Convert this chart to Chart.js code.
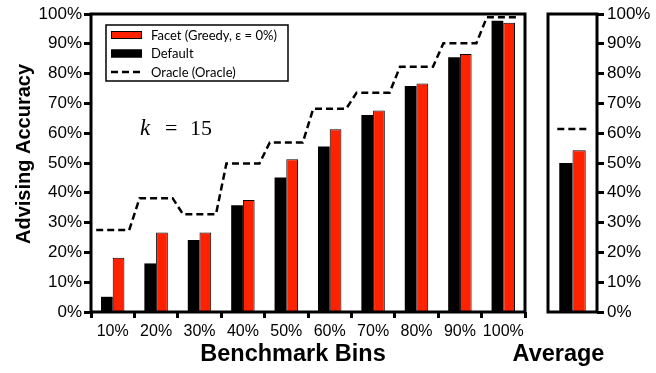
<!DOCTYPE html>
<html>
<head>
<meta charset="utf-8">
<script src="https://cdn.jsdelivr.net/npm/chart.js@4.4.1/dist/chart.umd.min.js"></script>
<style>
  html, body { margin: 0; padding: 0; background: #fff; }
  #wrap { position: relative; width: 656px; height: 373px; overflow: hidden; background: #fff; }
  canvas { position: absolute; top: 0; }
  #bins { left: 0; width: 540px; height: 373px; }
  #avg { left: 500px; width: 156px; height: 373px; }
</style>
</head>
<body>
<div id="wrap">
  <canvas id="bins" width="540" height="373"></canvas>
  <canvas id="avg" width="156" height="373"></canvas>
</div>
<script>
// Advising accuracy per benchmark bin (percent)
const binLabels  = ['10%', '20%', '30%', '40%', '50%', '60%', '70%', '80%', '90%', '100%'];
const defaultAcc = [5.1, 16.3, 24.2, 35.8, 45.1, 55.5, 66.1, 75.8, 85.5, 97.7];
const facetAcc   = [18.2, 26.7, 26.7, 37.6, 51.3, 61.3, 67.6, 76.7, 86.6, 97.1];
const oracleAcc  = [27.5, 38.2, 32.8, 49.8, 56.9, 68.2, 73.6, 82.3, 90.2, 98.9];

// Averages over all bins (percent)
const avgLabels  = ['Average'];
const defaultAvg = [50.0];
const facetAvg   = [54.3];
const oracleAvg  = [61.4];

const RED = '#ff2200';
const FONT = "'Liberation Sans', Arial, Helvetica, sans-serif";
Chart.defaults.font.family = FONT;
Chart.defaults.color = '#000';

// Groups sit at integer positions on a linear x axis
const atIndex = values => values.map((v, i) => ({ x: i, y: v }));

// Oracle is drawn as a flat dash across each group, joined by slanted steps
function stepPoints(values, half) {
  const pts = [];
  values.forEach((v, i) => { pts.push({ x: i - half, y: v }, { x: i + half, y: v }); });
  return pts;
}

function datasets(defVals, facVals, oraVals, half) {
  return [
    { type: 'bar', label: 'Default', data: atIndex(defVals), backgroundColor: '#000', borderColor: '#000',
      borderWidth: 0, categoryPercentage: 0.54, barPercentage: 1.0, order: 1 },
    { type: 'bar', label: 'Facet (Greedy, \u03b5 = 0%)', data: atIndex(facVals), backgroundColor: RED,
      borderColor: '#000', borderWidth: 1, categoryPercentage: 0.54, barPercentage: 1.0, order: 1 },
    { type: 'line', label: 'Oracle (Oracle)', data: stepPoints(oraVals, half),
      borderColor: '#000', borderWidth: 2.5, borderDash: [7, 4], pointRadius: 0, fill: false,
      tension: 0, order: 0 }
  ];
}

// Thick frame around the plotting area
const framePlugin = {
  id: 'frame',
  afterDatasetsDraw(chart) {
    const a = chart.chartArea, ctx = chart.ctx;
    ctx.save();
    ctx.strokeStyle = '#000';
    ctx.lineWidth = 3;
    ctx.strokeRect(a.left, a.top, a.right - a.left, a.bottom - a.top);
    ctx.restore();
  }
};

// Boxed legend in the upper-left corner of the bins panel
const boxLegend = {
  id: 'boxLegend',
  afterDraw(chart) {
    const a = chart.chartArea, ctx = chart.ctx;
    const order = [1, 0, 2];
    const bx = a.left + 15, by = a.top + 11, bw = 182, bh = 56;
    ctx.save();
    ctx.fillStyle = '#fff';
    ctx.fillRect(bx, by, bw, bh);
    ctx.strokeStyle = '#000';
    ctx.lineWidth = 1.5;
    ctx.strokeRect(bx, by, bw, bh);
    const rows = [by + 10, by + 28.5, by + 47];
    ctx.font = "13px Lato, 'Open Sans', sans-serif";
    ctx.textBaseline = 'middle';
    order.forEach((di, r) => {
      const ds = chart.data.datasets[di];
      const y = rows[r];
      const sx = bx + 5, sw = 31;
      if (ds.type === 'line') {
        ctx.strokeStyle = ds.borderColor;
        ctx.lineWidth = 2.5;
        ctx.setLineDash(ds.borderDash);
        ctx.beginPath();
        ctx.moveTo(sx, y);
        ctx.lineTo(sx + sw, y);
        ctx.stroke();
        ctx.setLineDash([]);
      } else {
        ctx.fillStyle = ds.backgroundColor;
        ctx.fillRect(sx, y - 4, sw, 8);
        ctx.strokeStyle = '#000';
        ctx.lineWidth = 1;
        ctx.strokeRect(sx + 0.5, y - 3.5, sw - 1, 7);
      }
      ctx.fillStyle = '#000';
      ctx.fillText(ds.label, bx + 45, y + 0.5);
    });
    ctx.restore();
  }
};

// Axis titles and the k annotation for the bins panel
const binsText = {
  id: 'binsText',
  afterDraw(chart) {
    const a = chart.chartArea, ctx = chart.ctx;
    ctx.save();
    ctx.fillStyle = '#000';
    ctx.font = 'bold 20px ' + FONT;
    ctx.textAlign = 'center';
    ctx.textBaseline = 'middle';
    ctx.translate(24, a.top + 140);
    ctx.rotate(-Math.PI / 2);
    ctx.fillText('Advising Accuracy', 0, 0);
    ctx.restore();

    ctx.save();
    ctx.fillStyle = '#000';
    ctx.font = 'bold 23.5px ' + FONT;
    ctx.textAlign = 'center';
    ctx.textBaseline = 'alphabetic';
    ctx.fillText('Benchmark Bins', (a.left + a.right) / 2 - 15, 361);

    const base = a.top + 121;
    ctx.textAlign = 'left';
    ctx.font = "italic 23px 'Liberation Serif', 'DejaVu Serif', serif";
    ctx.fillText('k', a.left + 49, base);
    ctx.font = "22px 'Liberation Serif', 'DejaVu Serif', serif";
    ctx.fillText('=', a.left + 74, base);
    ctx.fillText('15', a.left + 99, base);
    ctx.restore();
  }
};

const avgText = {
  id: 'avgText',
  afterDraw(chart) {
    const a = chart.chartArea, ctx = chart.ctx;
    ctx.save();
    ctx.fillStyle = '#000';
    ctx.font = 'bold 23.5px ' + FONT;
    ctx.textAlign = 'center';
    ctx.textBaseline = 'alphabetic';
    ctx.fillText(avgLabels[0], (a.left + a.right) / 2 - 14, 361);
    ctx.restore();
  }
};

function yAxis(position, width, pad) {
  return {
    position: position,
    min: 0, max: 100,
    border: { display: false },
    grid: { drawOnChartArea: false, drawTicks: true, tickLength: 7, tickWidth: 3, tickColor: '#000' },
    ticks: { stepSize: 10, padding: pad, color: '#000', font: { size: 17 }, callback: v => v + '%' },
    afterFit(scale) { scale.width = width; }
  };
}

function xAxis(labels, showTicks) {
  return {
    type: 'linear', offset: false,
    min: -0.5, max: labels.length - 0.5,
    border: { display: false },
    afterBuildTicks(scale) { scale.ticks = labels.map((_, i) => ({ value: i })); },
    grid: showTicks
      ? { offset: true, drawOnChartArea: false, tickLength: 6, tickWidth: 3, tickColor: '#000' }
      : { display: false },
    ticks: { display: showTicks, color: '#000', font: { size: 16 }, padding: 4, maxRotation: 0,
             autoSkip: false, callback: v => labels[v] },
    afterFit(scale) { scale.height = 61; }
  };
}

new Chart(document.getElementById('bins'), {
  type: 'bar',
  data: { datasets: datasets(defaultAcc, facetAcc, oracleAcc, 0.38) },
  options: {
    responsive: false, animation: false, devicePixelRatio: 1,
    layout: { padding: { top: 14, right: 15, left: 0, bottom: 0 } },
    plugins: { legend: { display: false }, tooltip: { enabled: false } },
    scales: { x: xAxis(binLabels, true), y: yAxis('left', 91, 2) }
  },
  plugins: [framePlugin, boxLegend, binsText]
});

new Chart(document.getElementById('avg'), {
  type: 'bar',
  data: { datasets: datasets(defaultAvg, facetAvg, oracleAvg, 0.31) },
  options: {
    responsive: false, animation: false, devicePixelRatio: 1,
    layout: { padding: { top: 14, right: 0, left: 48, bottom: 0 } },
    plugins: { legend: { display: false }, tooltip: { enabled: false } },
    scales: { x: xAxis(avgLabels, false), y: yAxis('right', 59, 3) }
  },
  plugins: [framePlugin, avgText]
});
</script>
</body>
</html>
